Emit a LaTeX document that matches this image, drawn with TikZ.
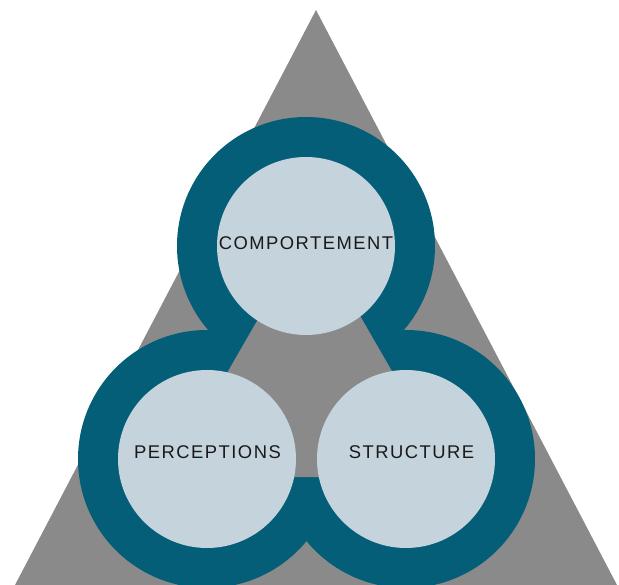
\documentclass[tikz,border=0pt]{standalone}
\usepackage{fontspec}
\usepackage{tikz}
\usetikzlibrary{calc,positioning}
\newfontfamily\labelfont{Liberation Sans}[LetterSpace=8]
\definecolor{ringteal}{RGB}{4,94,120}
\definecolor{coreblue}{RGB}{196,211,220}
\definecolor{basegray}{RGB}{138,138,138}
\tikzset{
  ring/.style  = {shape=circle, fill=ringteal, inner sep=0pt,
                  minimum size=258pt},
  core/.style  = {shape=circle, fill=coreblue, inner sep=0pt,
                  minimum size=178pt},
  tag/.style   = {font=\labelfont\fontsize{18.4}{22}\selectfont,
                  inner sep=0pt, text=black!90}
}

\begin{document}
\begin{tikzpicture}[x=1pt,y=-1pt]
  \useasboundingbox (0,0) rectangle (619,585);
  \clip (0,0) rectangle (619,585);
  % big triangle
  \coordinate (apex) at (316,10);
  \coordinate (bl)   at (15,585);
  \coordinate (br)   at (617,585);
  \fill[basegray] (apex) -- (bl) -- (br) -- cycle;
  % rings
  \node [ring] (ringC) at (306,246) {};
  \node [ring] (ringP) at (207,459) {};
  \node [ring] (ringS) at (406,459) {};
  % inner triangle
  \coordinate (itop) at (310,229);
  \coordinate (ibl)  at (167,477);
  \coordinate (ibr)  at (453,477);
  \fill[basegray] (itop) -- (ibl) -- (ibr) -- cycle;
  % cores
  \node [core] (coreC) at (ringC) {};
  \node [core] (coreP) at (ringP) {};
  \node [core] (coreS) at (ringS) {};
  % labels
  \node [tag] (comp)  at (306,243) {COMPORTEMENT};
  \node [tag] (perc)  at (207.5,452) {PERCEPTIONS};
  \node [tag] (struc) at (411.5,452) {STRUCTURE};
\end{tikzpicture}
\end{document}
